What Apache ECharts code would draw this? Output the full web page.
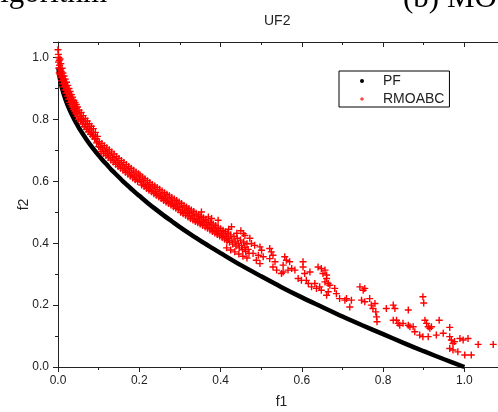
<!DOCTYPE html>
<html>
<head>
<meta charset="utf-8">
<script src="https://cdn.jsdelivr.net/npm/echarts@6/dist/echarts.min.js"></script>
<style>html,body{margin:0;padding:0;background:#fff}#c{width:498px;height:412px}</style>
</head>
<body>
<div id="c"></div>
<script>
const chartTitle = 'UF2';
const xName = 'f1';
const yName = 'f2';
const seriesNames = ['PF', 'RMOABC'];

const pfF1 = [0.001,0.002,0.003,0.005,0.007,0.01,0.015,0.02,0.025,0.03,0.035,0.04,0.045,0.05,0.06,0.07,0.08,0.09,0.10,0.11,0.12,0.13,0.14,0.15,0.16,0.17,0.18,0.19,0.20,0.22,0.24,0.26,0.28,0.30,0.32,0.34,0.36,0.38,0.40,0.45,0.50,0.55,0.60,0.65,0.70,0.75,0.80,0.85,0.90,0.95,1.00];
const pfF2 = [0.968,0.955,0.945,0.929,0.916,0.900,0.878,0.859,0.842,0.827,0.813,0.800,0.788,0.776,0.755,0.735,0.717,0.700,0.684,0.668,0.654,0.639,0.626,0.613,0.600,0.588,0.576,0.564,0.553,0.531,0.510,0.490,0.471,0.452,0.434,0.417,0.400,0.384,0.368,0.329,0.293,0.258,0.225,0.194,0.163,0.134,0.106,0.078,0.051,0.025,0.000];

const rmoabcDense = [
[0.000,1.025],[0.001,1.010],[0.001,0.985],[0.002,1.000],[0.002,0.965],[0.003,0.990],[0.003,0.950],[0.004,0.975],[0.005,0.995],[0.005,0.945],[0.006,0.960],[0.007,0.980],[0.007,0.935],[0.008,0.955],[0.009,0.925],[0.010,0.965],[0.010,0.940],[0.011,0.915],[0.012,0.950],[0.013,0.930],[0.014,0.905],[0.015,0.940],[0.016,0.915],[0.017,0.895],[0.018,0.930],[0.019,0.905],
[0.020,0.885],[0.021,0.920],[0.022,0.900],[0.023,0.875],[0.024,0.910],[0.025,0.890],[0.026,0.865],[0.027,0.900],[0.028,0.880],[0.029,0.855],[0.030,0.890],[0.031,0.870],[0.032,0.848],[0.033,0.880],[0.034,0.860],[0.035,0.840],[0.036,0.872],[0.037,0.850],[0.038,0.832],[0.039,0.862],[0.040,0.842],[0.041,0.825],[0.042,0.855],[0.043,0.835],[0.044,0.818],[0.045,0.848],[0.046,0.826],[0.047,0.810],[0.048,0.840],[0.049,0.818],[0.050,0.800],
[0.052,0.830],[0.054,0.808],[0.055,0.795],[0.057,0.822],[0.058,0.800],[0.060,0.785],[0.062,0.812],[0.063,0.792],[0.065,0.776],[0.067,0.803],[0.068,0.783],[0.070,0.768],[0.072,0.795],[0.073,0.775],[0.075,0.760],[0.077,0.786],[0.078,0.766],[0.080,0.752],[0.082,0.778],[0.083,0.758],[0.085,0.745],[0.087,0.770],[0.088,0.750],[0.090,0.737],[0.092,0.758],[0.093,0.738],[0.095,0.724],[0.097,0.745],[0.098,0.728],[0.100,0.712],
[0.102,0.728],[0.104,0.710],[0.106,0.696],[0.108,0.722],[0.110,0.704],[0.112,0.690],[0.114,0.715],[0.116,0.697],[0.118,0.683],[0.120,0.708],[0.122,0.690],[0.124,0.677],[0.126,0.702],[0.128,0.683],[0.130,0.669],[0.132,0.695],[0.134,0.676],[0.136,0.662],[0.138,0.688],[0.140,0.668],[0.142,0.655],[0.144,0.680],[0.146,0.661],[0.148,0.648],[0.150,0.674],[0.152,0.655],[0.154,0.642],[0.156,0.667],[0.158,0.649],[0.160,0.636],[0.162,0.661],[0.164,0.642],[0.166,0.629],[0.168,0.654],[0.170,0.636],[0.172,0.623],[0.174,0.648],[0.176,0.629],[0.178,0.617],[0.180,0.642],[0.182,0.623],[0.184,0.611],[0.186,0.636],[0.188,0.617],[0.190,0.605],[0.192,0.630],[0.194,0.611],[0.196,0.599],[0.198,0.624],[0.200,0.605],
[0.202,0.620],[0.204,0.600],[0.206,0.588],[0.208,0.614],[0.210,0.595],[0.212,0.583],[0.214,0.608],[0.216,0.589],[0.218,0.577],[0.220,0.602],[0.222,0.583],[0.224,0.571],[0.226,0.596],[0.228,0.578],[0.230,0.566],[0.232,0.590],[0.234,0.572],[0.236,0.560],[0.238,0.585],[0.240,0.566],[0.242,0.555],[0.244,0.580],[0.246,0.561],[0.248,0.549],[0.250,0.574],[0.252,0.556],[0.254,0.544],[0.256,0.569],[0.258,0.550],[0.260,0.538],[0.262,0.563],[0.264,0.545],[0.266,0.533],[0.268,0.558],[0.270,0.540],[0.272,0.528],[0.274,0.553],[0.276,0.535],[0.278,0.523],[0.280,0.548],[0.282,0.530],[0.284,0.518],[0.286,0.543],[0.288,0.525],[0.290,0.513],[0.292,0.538],[0.294,0.520],[0.296,0.508],[0.298,0.533],[0.300,0.515],
[0.302,0.500],[0.304,0.528],[0.306,0.510],[0.308,0.495],[0.310,0.522],[0.312,0.505],[0.314,0.490],[0.316,0.517],[0.318,0.500],[0.320,0.485],[0.322,0.512],[0.324,0.495],[0.326,0.480],[0.328,0.507],[0.330,0.490],[0.332,0.475],[0.334,0.502],[0.336,0.485],[0.338,0.470],[0.340,0.497],[0.342,0.480],[0.344,0.466],[0.346,0.492],[0.348,0.475],[0.350,0.462],[0.352,0.487],[0.354,0.470],[0.356,0.457],[0.358,0.482],[0.360,0.466],[0.362,0.452],[0.364,0.477],[0.366,0.461],[0.368,0.448],[0.370,0.472],[0.372,0.456],[0.374,0.443],[0.376,0.467],[0.378,0.451],[0.380,0.438],[0.382,0.462],[0.384,0.446],[0.386,0.433],[0.388,0.457],[0.390,0.441],[0.392,0.428],[0.394,0.452],[0.396,0.436],[0.398,0.423],[0.400,0.447],[0.402,0.431],[0.404,0.418],[0.406,0.442],[0.408,0.426],[0.410,0.413],[0.412,0.437],[0.414,0.421],[0.416,0.408],[0.418,0.432],[0.420,0.416],[0.422,0.403],[0.425,0.427],[0.428,0.410],[0.430,0.397],[0.433,0.422],[0.436,0.404],[0.438,0.391],[0.441,0.416],[0.444,0.398],[0.446,0.385],[0.449,0.410],[0.452,0.392],[0.454,0.379],[0.457,0.404],[0.460,0.386],[0.462,0.373],[0.465,0.398],[0.468,0.380],[0.470,0.367],
[0.415,0.385],[0.425,0.378],[0.435,0.372],[0.445,0.365],[0.455,0.358],[0.465,0.352],[0.420,0.445],[0.440,0.432],[0.450,0.440],[0.460,0.425],[0.427,0.453],[0.456,0.431],[0.472,0.416],
[0.353,0.501],[0.370,0.485],[0.378,0.480],[0.394,0.474]
];

const rmoabcSparse = [
[0.476,0.399],[0.484,0.393],[0.497,0.388],[0.501,0.377],[0.480,0.367],[0.493,0.361],[0.505,0.356],[0.488,0.345],[0.497,0.334],[0.521,0.383],[0.525,0.372],[0.529,0.361],[0.521,0.350],[0.534,0.340],[0.529,0.323],[0.538,0.313],[0.550,0.302],[0.558,0.356],[0.562,0.345],[0.570,0.340],[0.554,0.329],[0.554,0.307],[0.566,0.313],[0.575,0.318],[0.583,0.313],[0.591,0.286],[0.599,0.280],[0.603,0.340],[0.603,0.323],[0.607,0.302],[0.611,0.280],[0.616,0.270],[0.620,0.307],[0.624,0.259],[0.632,0.270],[0.636,0.254],[0.644,0.259],[0.640,0.323],[0.648,0.318],[0.657,0.313],[0.652,0.302],[0.661,0.297],[0.661,0.286],[0.657,0.275],[0.665,0.270],[0.669,0.264],[0.648,0.248],[0.661,0.232],[0.665,0.243],[0.681,0.254],[0.685,0.237],[0.693,0.221],[0.710,0.221],[0.706,0.216],[0.722,0.216],[0.718,0.194],[0.743,0.259],[0.751,0.248],[0.755,0.254],[0.747,0.216],[0.755,0.211],[0.767,0.221],[0.771,0.200],[0.780,0.205],[0.775,0.189],[0.782,0.178],[0.784,0.162],[0.785,0.146],[0.808,0.189],[0.825,0.200],[0.829,0.189],[0.833,0.151],[0.837,0.141],[0.825,0.151],[0.841,0.135],[0.849,0.141],[0.862,0.135],[0.866,0.130],[0.874,0.130],[0.878,0.114],[0.862,0.184],[0.898,0.227],[0.900,0.207],[0.890,0.103],[0.898,0.098],[0.911,0.098],[0.903,0.151],[0.907,0.141],[0.911,0.130],[0.915,0.125],[0.919,0.130],[0.931,0.103],[0.938,0.151],[0.948,0.109],[0.964,0.128],[0.964,0.098],[0.968,0.087],[0.972,0.076],[0.976,0.082],[0.964,0.060],[0.972,0.055],[0.984,0.049],[0.989,0.092],[0.997,0.087],[1.009,0.092],[1.001,0.039],[1.017,0.039],[1.034,0.073],[1.071,0.073]
];

const xTicks = { min: 0, max: 1.1, interval: 0.2 };
const yTicks = { min: 0, max: 1.05, interval: 0.2 };

const pfData = pfF1.map((v, i) => [v, pfF2[i]]);
const rmoData = rmoabcDense.concat(rmoabcSparse);
const plusPath = 'path://M4,0H6V4H10V6H6V10H4V6H0V4H4Z';
const txt = '#222';
const font = 'Liberation Sans, Arial, sans-serif';

const chart = echarts.init(document.getElementById('c'), null, { renderer: 'canvas' });
const baseAxis = {
  axisLine: { show: true, onZero: false, lineStyle: { color: '#222', width: 1 } },
  splitLine: { show: false }
};
chart.setOption({
  backgroundColor: '#fff',
  animation: false,
  title: {
    text: chartTitle, left: 264, top: 14, padding: 0,
    textStyle: { fontFamily: font, fontSize: 14, fontWeight: 'normal', color: txt }
  },
  graphic: [
    { type: 'text', x: 107, y: 9.5, style: { text: 'algorithm', font: '31px "Liberation Serif", serif', fill: '#000', textAlign: 'right', textVerticalAlign: 'bottom' } },
    { type: 'text', x: 403, y: 14, style: { text: '(b) MO', font: '31px "Liberation Serif", serif', fill: '#000', textAlign: 'left', textVerticalAlign: 'bottom' } }
  ],
  legend: {
    orient: 'vertical', left: 339, top: 71,
    padding: [3, 5, 1, 21],
    borderColor: '#000', borderWidth: 1, backgroundColor: '#fff',
    itemWidth: 4, itemHeight: 4, itemGap: 4,
    textStyle: { fontFamily: font, fontSize: 14, color: txt, lineHeight: 14, padding: [0, 0, 0, 14] },
    data: [
      { name: seriesNames[0], icon: 'circle' },
      { name: seriesNames[1], icon: plusPath }
    ]
  },
  grid: { left: 58, top: 42, width: 447, height: 325, containLabel: false, outerBoundsMode: 'none' },
  xAxis: [
    Object.assign({}, baseAxis, {
      type: 'value', position: 'bottom', min: xTicks.min, max: xTicks.max, interval: xTicks.interval,
      name: xName, nameLocation: 'middle', nameGap: 28, nameMoveOverlap: false,
      nameTextStyle: { fontFamily: font, fontSize: 14, color: txt },
      axisTick: { show: true, inside: false, length: 5, lineStyle: { color: '#222' } },
      minorTick: { show: true, splitNumber: 2, length: 3, lineStyle: { color: '#222' } },
      axisLabel: { show: true, margin: 8, fontFamily: font, fontSize: 12, color: txt, showMaxLabel: false,
        formatter: v => v.toFixed(1) }
    }),
    Object.assign({}, baseAxis, {
      type: 'value', position: 'top', min: xTicks.min, max: xTicks.max, interval: xTicks.interval,
      axisTick: { show: true, inside: true, length: 5, lineStyle: { color: '#222' } },
      minorTick: { show: true, splitNumber: 2, length: 3, lineStyle: { color: '#222' } },
      axisLabel: { show: false }
    })
  ],
  yAxis: [
    Object.assign({}, baseAxis, {
      type: 'value', position: 'left', min: yTicks.min, max: yTicks.max, interval: yTicks.interval,
      name: yName, nameLocation: 'middle', nameGap: 27, nameMoveOverlap: false,
      nameTextStyle: { fontFamily: font, fontSize: 14, color: txt },
      axisTick: { show: true, inside: false, length: 5, lineStyle: { color: '#222' } },
      minorTick: { show: true, splitNumber: 2, length: 3, lineStyle: { color: '#222' } },
      axisLabel: { show: true, margin: 9, fontFamily: font, fontSize: 12, color: txt, showMaxLabel: false,
        formatter: v => v.toFixed(1) }
    })
  ],
  series: [
    {
      name: seriesNames[0], type: 'line', data: pfData, xAxisIndex: 0, yAxisIndex: 0,
      showSymbol: false, symbol: 'none', smooth: 0.3,
      lineStyle: { color: '#000', width: 4.5 }, itemStyle: { color: '#000' }, z: 2
    },
    {
      name: seriesNames[1], type: 'scatter', data: rmoData, xAxisIndex: 0, yAxisIndex: 0,
      symbol: plusPath, symbolSize: 7,
      itemStyle: { color: '#ff0000', opacity: 1 }, z: 3
    }
  ]
});
</script>
</body>
</html>
